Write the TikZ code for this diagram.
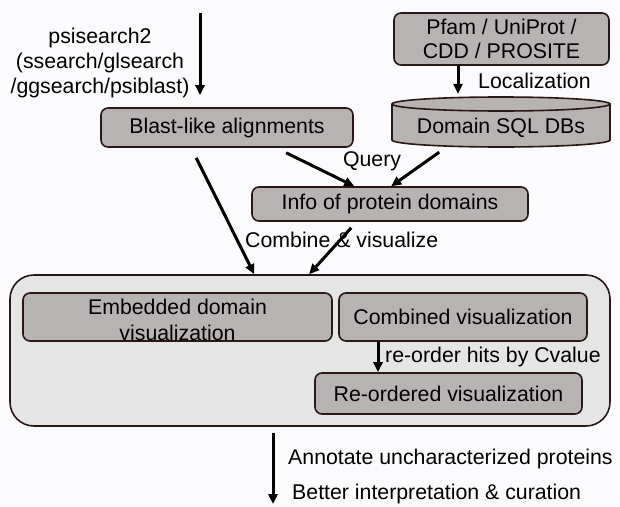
\documentclass[tikz,border=0pt]{standalone}
\usepackage{fontspec}
\setmainfont{Liberation Sans}
\usetikzlibrary{arrows.meta}
\definecolor{bg}{RGB}{251,251,253}
\definecolor{boxfill}{RGB}{184,179,179}
\definecolor{bigfill}{RGB}{230,229,229}
\definecolor{edge}{RGB}{42,24,22}
\begin{document}
\begin{tikzpicture}[x=1pt,y=-1pt,
  every node/.style={font=\fontsize{21.3}{25}\selectfont, text=black, inner sep=0pt},
  gbox/.style={draw=edge, line width=1.6pt, fill=boxfill, rounded corners=7pt, align=center},
  lbl/.style={anchor=west},
  arr/.style={draw=black, line width=3pt, -{Triangle[length=10pt,width=9pt]}},
]
\fill[bg] (0,0) rectangle (620,506);
\useasboundingbox (0,0) rectangle (620,506);

% big container
\node[draw=edge, line width=1.6pt, fill=bigfill, rounded corners=24pt,
      minimum width=600pt, minimum height=151pt] (big) at (310,350.5) {};

% top boxes
\node[gbox, minimum width=215pt, minimum height=52pt] (pfam) at (501.5,39)
  {Pfam / UniProt /\\[-1pt]CDD / PROSITE};
\node[gbox, minimum width=252pt, minimum height=39pt] (blast) at (227,127.5) {Blast-like alignments};
\node[gbox, minimum width=276pt, minimum height=34pt] (info) at (390,204) {Info of protein domains};

% cylinder
\fill[boxfill] (392,104) -- (392,140) arc[start angle=180, end angle=0, x radius=109, y radius=7]
  -- (610,104) -- cycle;
\draw[edge, line width=1.6pt] (392,104) -- (392,140) arc[start angle=180, end angle=0, x radius=109, y radius=7] -- (610,104);
\draw[edge, line width=1.6pt, fill=boxfill] (501,104) ellipse[x radius=109, y radius=7];
\node[minimum width=218pt, minimum height=38pt] (db) at (501,128) {Domain SQL DBs};

% inner boxes
\node[gbox, minimum width=309pt, minimum height=48pt] (embed) at (177.5,317) {};
\node[align=center] (embedt) at (177.5,320) {Embedded domain\\[1pt]visualization};
\node[gbox, minimum width=248pt, minimum height=48pt] (comb) at (463,317) {Combined visualization};
\node[gbox, minimum width=267pt, minimum height=41pt] (reord) at (448.5,393.5) {Re-ordered visualization};

% labels
\node (psi) at (100,62.5) [align=center] {psisearch2\\(ssearch/glsearch\\/ggsearch/psiblast)};
\node[lbl] (loc) at (478,81) {Localization};
\node (query) at (372,161) {Query};
\node[lbl] (combl) at (245,240) {Combine \& visualize};
\node[lbl] (reordl) at (385,357) {re-order hits by Cvalue};
\node[lbl] (annot) at (288,459) {Annotate uncharacterized proteins};
\node[lbl] (better) at (292,494) {Better interpretation \& curation};

% coordinates
\coordinate (top) at (200,13);
\coordinate (locx) at (458,0);
\coordinate (rx) at (378,0);
\coordinate (botx) at (273,0);
\coordinate (bend) at (273,504);

% connectors
\draw[arr] (top) -- ([yshift=12pt]blast.north -| top);
\draw[arr] (pfam.south -| locx) -- ([yshift=15pt]db.north -| locx);
\draw[arr] ([shift={(186,5)}]blast.south west) -- ([shift={(103,0)}]info.north west);
\draw[arr] ([shift={(-171,5)}]db.south east) -- ([shift={(140,0)}]info.north west);
\draw[arr] ([shift={(96,10)}]blast.south west) -- ([shift={(245,0)}]big.north west);
\draw[arr] ([shift={(100,6)}]info.south west) -- ([shift={(300,0)}]big.north west);
\draw[arr] (comb.south -| rx) -- (reord.north -| rx);
\draw[arr] ([shift={(0,6.5)}]big.south -| botx) -- (bend);
\end{tikzpicture}
\end{document}
